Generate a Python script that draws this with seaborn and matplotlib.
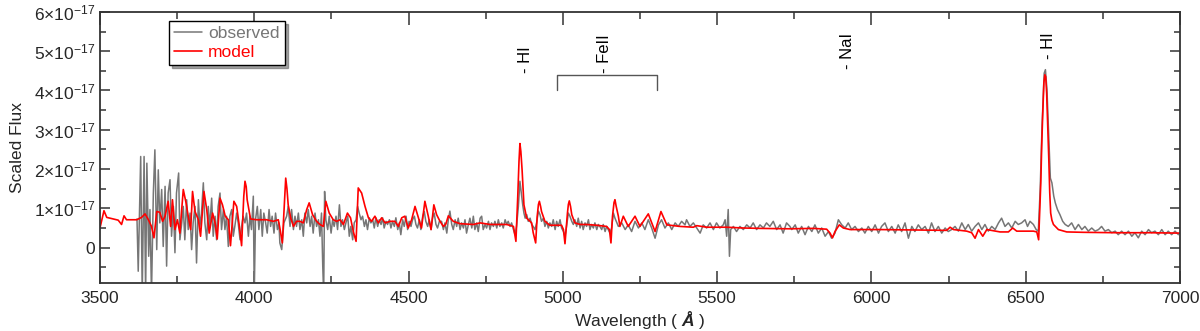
import numpy as np
import pandas as pd
import matplotlib
matplotlib.use("Agg")
import matplotlib.pyplot as plt
from matplotlib.ticker import MultipleLocator, FuncFormatter
import seaborn as sns

# ---------------- data (flux in units of 1e-17) ----------------
model_wave = [3500, 3513, 3522, 3543, 3559, 3570, 3578, 3586, 3619, 3635, 3646, 3657, 3667, 3675,
              3684, 3694, 3703, 3711, 3721, 3729, 3735, 3743, 3751, 3759, 3770, 3779, 3786, 3794,
              3800, 3808, 3819, 3826, 3837, 3846, 3854, 3865, 3873, 3880, 3889, 3897, 3906, 3916,
              3923, 3934, 3943, 3951, 3959, 3966, 3970, 3974, 3977, 3988, 4008, 4040, 4062, 4078,
              4083, 4091, 4098, 4102, 4106, 4110, 4118, 4127, 4137, 4148, 4159, 4170, 4178, 4189,
              4202, 4213, 4224, 4232, 4243, 4256, 4267, 4278, 4289, 4302, 4312, 4321, 4330, 4337,
              4348, 4359, 4370, 4380, 4391, 4402, 4413, 4424, 4440, 4456, 4467, 4478, 4488, 4499,
              4510, 4521, 4532, 4542, 4553, 4564, 4573, 4582, 4591, 4602, 4613, 4621, 4629, 4645,
              4667, 4710, 4732, 4764, 4818, 4840, 4848, 4854, 4858, 4861, 4864, 4868, 4874, 4883,
              4899, 4904, 4912, 4917, 4921, 4924, 4928, 4931, 4942, 4958, 4996, 5002, 5007, 5015,
              5018, 5021, 5025, 5029, 5039, 5056, 5077, 5110, 5142, 5151, 5156, 5161, 5166, 5169,
              5173, 5180, 5185, 5196, 5212, 5234, 5250, 5277, 5299, 5318, 5337, 5358, 5380, 5423,
              5434, 5466, 5531, 5585, 5639, 5736, 5812, 5855, 5866, 5874, 5882, 5896, 5909, 5931,
              6028, 6136, 6244, 6255, 6266, 6287, 6309, 6325, 6336, 6347, 6361, 6374, 6417, 6444,
              6458, 6471, 6525, 6536, 6542, 6549, 6552, 6555, 6559, 6562, 6565, 6568, 6571, 6575,
              6578, 6581, 6585, 6590, 6606, 6633, 6687, 6795, 6903, 7000]
model_flux = [0.50, 0.94, 0.77, 0.73, 0.70, 0.59, 0.81, 0.71, 0.71, 0.77, 0.86, 0.71, 0.54, 0.25,
              0.92, 0.90, 0.67, 0.80, 1.18, 0.54, 1.22, 0.46, 0.71, 0.37, 1.48, 1.14, 0.80, 0.46,
              1.43, 0.92, 0.71, 0.29, 1.43, 0.97, 0.37, 0.88, 0.63, 0.22, 1.26, 1.09, 0.80, 0.71,
              0.05, 1.18, 1.05, 0.59, 0.05, 1.30, 1.69, 1.55, 1.22, 0.73, 0.71, 0.71, 0.67, 0.71,
              0.50, 0.12, 1.20, 1.77, 1.50, 1.09, 0.76, 0.54, 0.67, 0.67, 0.63, 0.97, 1.14, 0.84,
              0.67, 0.59, 0.54, 1.18, 0.88, 0.71, 0.67, 0.71, 0.59, 0.88, 0.76, 0.41, 0.16, 1.52,
              1.39, 1.05, 0.76, 0.67, 0.80, 0.63, 0.76, 0.63, 0.67, 0.67, 0.54, 0.76, 0.80, 0.50,
              0.71, 1.05, 0.76, 0.50, 1.18, 0.80, 0.46, 1.09, 0.84, 0.67, 0.54, 0.60, 0.81, 0.67,
              0.61, 0.59, 0.63, 0.59, 0.59, 0.54, 0.16, 1.31, 2.20, 2.65, 2.45, 1.98, 1.09, 0.75,
              0.63, 0.38, 0.12, 0.80, 1.10, 1.18, 1.05, 0.92, 0.67, 0.57, 0.57, 0.46, 0.10, 0.88,
              1.10, 1.19, 1.05, 0.84, 0.63, 0.59, 0.59, 0.57, 0.54, 0.46, 0.12, 0.80, 1.15, 1.22,
              1.05, 0.80, 0.54, 0.80, 0.54, 0.80, 0.54, 0.86, 0.41, 0.92, 0.58, 0.56, 0.54, 0.52,
              0.56, 0.52, 0.52, 0.50, 0.49, 0.48, 0.49, 0.47, 0.37, 0.25, 0.41, 0.58, 0.50, 0.46,
              0.46, 0.45, 0.44, 0.52, 0.46, 0.44, 0.42, 0.38, 0.24, 0.46, 0.29, 0.46, 0.40, 0.40,
              0.50, 0.42, 0.42, 0.40, 0.20, 1.65, 2.60, 3.34, 4.20, 4.40, 4.35, 3.93, 3.20, 2.24,
              1.40, 0.88, 0.70, 0.59, 0.46, 0.40, 0.39, 0.38, 0.38, 0.37]

obs_wave = [3620, 3624, 3632, 3637, 3643, 3648, 3652, 3658, 3662, 3667, 3673, 3678, 3684, 3689,
            3694, 3700, 3705, 3711, 3716, 3721, 3727, 3732, 3738, 3743, 3748, 3755, 3759, 3765,
            3770, 3775, 3781, 3786, 3792, 3797, 3802, 3808, 3813, 3819, 3824, 3829, 3835, 3840,
            3846, 3851, 3856, 3862, 3867, 3873, 3878, 3883, 3889, 3894, 3900, 3905, 3910, 3916,
            3921, 3927, 3932, 3937, 3943, 3948, 3954, 3959, 3964, 3970, 3975, 3981, 3986, 3991,
            3997, 4000, 4004, 4010, 4015, 4021, 4026, 4031, 4037, 4042, 4048, 4053, 4058, 4064,
            4069, 4075, 4080, 4083, 4089, 4096, 4105, 4110, 4116, 4121, 4127, 4132, 4137, 4143,
            4148, 4154, 4159, 4164, 4170, 4175, 4181, 4186, 4191, 4197, 4202, 4208, 4213, 4218,
            4222, 4225, 4228, 4232, 4238, 4243, 4249, 4254, 4259, 4265, 4270, 4276, 4281, 4286,
            4292, 4297, 4303, 4308, 4313, 4319, 4324, 4330, 4335, 4340, 4346, 4351, 4357, 4362,
            4367, 4373, 4378, 4384, 4389, 4394, 4400, 4405, 4411, 4416, 4421, 4427, 4432, 4438,
            4443, 4448, 4454, 4459, 4465, 4470, 4475, 4481, 4486, 4492, 4497, 4502, 4508, 4513,
            4519, 4524, 4529, 4535, 4540, 4546, 4551, 4556, 4562, 4567, 4573, 4578, 4583, 4589,
            4594, 4600, 4607, 4613, 4618, 4624, 4629, 4634, 4640, 4645, 4651, 4656, 4661, 4667,
            4672, 4678, 4683, 4688, 4694, 4699, 4705, 4710, 4715, 4721, 4726, 4732, 4737, 4742,
            4748, 4753, 4759, 4764, 4769, 4775, 4780, 4786, 4791, 4796, 4802, 4807, 4813, 4818,
            4823, 4829, 4834, 4840, 4845, 4850, 4856, 4861, 4866, 4870, 4874, 4878, 4883, 4888,
            4894, 4899, 4904, 4910, 4915, 4921, 4926, 4931, 4937, 4942, 4948, 4953, 4958, 4964,
            4969, 4975, 4980, 4985, 4991, 4996, 5002, 5007, 5012, 5018, 5023, 5029, 5034, 5039,
            5045, 5050, 5056, 5061, 5066, 5072, 5077, 5083, 5088, 5093, 5099, 5104, 5110, 5115,
            5120, 5126, 5131, 5137, 5142, 5147, 5153, 5158, 5164, 5169, 5180, 5191, 5202, 5212,
            5223, 5234, 5245, 5256, 5266, 5277, 5288, 5299, 5310, 5320, 5331, 5342, 5353, 5364,
            5374, 5385, 5396, 5401, 5412, 5423, 5434, 5445, 5455, 5466, 5477, 5488, 5498, 5509,
            5520, 5526, 5531, 5536, 5540, 5544, 5553, 5563, 5574, 5585, 5596, 5607, 5617, 5628,
            5639, 5650, 5660, 5671, 5682, 5693, 5704, 5714, 5725, 5736, 5742, 5753, 5763, 5774,
            5785, 5796, 5807, 5817, 5828, 5839, 5850, 5861, 5871, 5882, 5893, 5904, 5915, 5925,
            5936, 5947, 5958, 5969, 5979, 5990, 6001, 6012, 6023, 6033, 6044, 6055, 6066, 6077,
            6087, 6098, 6109, 6120, 6131, 6141, 6152, 6163, 6174, 6185, 6195, 6206, 6217, 6228,
            6239, 6249, 6260, 6271, 6282, 6293, 6304, 6314, 6325, 6336, 6347, 6358, 6368, 6379,
            6390, 6401, 6412, 6422, 6433, 6444, 6455, 6466, 6476, 6487, 6498, 6506, 6514, 6525,
            6534, 6541, 6547, 6553, 6560, 6564, 6569, 6575, 6580, 6585, 6591, 6596, 6603, 6611,
            6620, 6628, 6638, 6649, 6660, 6671, 6682, 6692, 6703, 6714, 6725, 6736, 6746, 6757,
            6768, 6779, 6790, 6800, 6811, 6822, 6833, 6844, 6854, 6865, 6876, 6887, 6898, 6908,
            6919, 6930, 6941, 6952, 6962, 6973, 6984, 6995]
obs_flux = [0.73, -0.60, 2.32, -1.20, 2.32, -1.20, 2.15, -0.22, 0.97, -1.20, 1.39, 2.49, -0.05, 1.98,
            0.63, 1.48, 0.03, 1.56, -0.47, 1.39, 1.73, 0.29, 1.05, -0.13, 1.39, 1.90, 0.20, 0.63,
            1.05, 0.20, 1.22, 0.46, 0.88, -0.05, 0.63, 1.05, -0.39, 1.22, 0.54, 0.88, 1.65, 0.63,
            0.20, 1.05, 0.54, 1.26, 0.29, 0.80, 0.20, 1.05, 1.39, 0.46, 0.97, 0.46, 0.80, 0.03,
            0.80, 0.97, 0.29, 0.54, 0.88, 0.63, 0.20, 0.54, 0.80, 0.63, 0.88, 0.29, 0.80, 0.46,
            1.31, -1.20, 0.71, 1.05, 0.46, 0.97, 0.29, 0.88, 0.63, 0.37, 0.97, 0.54, 0.80, 0.37,
            0.88, 0.46, 0.63, 0.12, -0.05, 0.63, 0.80, 1.05, 0.54, 0.97, 0.46, 0.80, 0.54, 0.88,
            0.46, 0.71, 0.29, 0.88, 0.63, 0.97, 0.54, 0.80, 0.37, 0.88, 0.54, 0.71, 0.29, 0.88,
            -0.47, -1.20, 1.43, 0.71, 0.46, 0.80, 0.37, 0.71, 0.54, 0.80, 0.46, 1.09, 0.54, 0.71,
            0.46, 0.63, 0.80, 0.29, 0.54, 0.20, 0.63, 0.71, 1.05, 0.88, 0.71, 0.80, 0.54, 0.71,
            0.46, 0.76, 0.63, 0.71, 0.50, 0.76, 0.54, 0.71, 0.59, 0.76, 0.50, 0.67, 0.59, 0.71,
            0.50, 0.67, 0.54, 0.76, 0.46, 0.63, 0.33, 0.71, 0.54, 0.80, 0.46, 0.67, 0.54, 0.71,
            0.80, 0.59, 0.50, 0.71, 0.46, 0.80, 0.92, 0.67, 0.54, 0.71, 0.46, 0.76, 0.88, 0.59,
            0.50, 0.67, 0.67, 0.46, 0.63, 0.37, 0.71, 0.93, 0.59, 0.46, 0.71, 0.54, 0.75, 0.46,
            0.63, 0.50, 0.71, 0.37, 0.59, 0.75, 0.50, 0.80, 0.46, 0.63, 0.41, 0.75, 0.80, 0.46,
            0.59, 0.50, 0.67, 0.46, 0.63, 0.54, 0.67, 0.50, 0.71, 0.54, 0.63, 0.50, 0.71, 0.59,
            0.67, 0.54, 0.63, 0.46, 0.33, 0.54, 1.05, 1.69, 1.35, 1.09, 0.88, 0.75, 0.84, 0.67,
            0.75, 0.59, 0.54, 0.46, 0.63, 0.93, 0.84, 0.67, 0.75, 0.54, 0.67, 0.50, 0.63, 0.54,
            0.71, 0.46, 0.67, 0.54, 0.71, 0.50, 0.41, 0.29, 0.54, 0.88, 0.80, 0.67, 0.59, 0.71,
            0.54, 0.75, 0.50, 0.67, 0.46, 0.63, 0.54, 0.71, 0.46, 0.59, 0.50, 0.63, 0.46, 0.59,
            0.54, 0.46, 0.59, 0.41, 0.54, 0.46, 0.37, 0.50, 0.88, 0.75, 0.54, 0.63, 0.46, 0.58,
            0.41, 0.67, 0.50, 0.63, 0.46, 0.71, 0.50, 0.24, 0.58, 0.71, 0.50, 0.63, 0.46, 0.63,
            0.54, 0.67, 0.58, 0.71, 0.54, 0.63, 0.50, 0.37, 0.58, 0.50, 0.63, 0.46, 0.63, 0.50,
            0.58, 0.71, 0.29, 0.97, -0.22, 0.46, 0.54, 0.41, 0.54, 0.46, 0.58, 0.50, 0.63, 0.46,
            0.58, 0.50, 0.63, 0.54, 0.67, 0.46, 0.58, 0.37, 0.63, 0.54, 0.46, 0.58, 0.37, 0.54,
            0.33, 0.54, 0.41, 0.58, 0.37, 0.50, 0.29, 0.41, 0.24, 0.37, 0.71, 0.58, 0.50, 0.63,
            0.46, 0.54, 0.41, 0.50, 0.37, 0.54, 0.41, 0.58, 0.37, 0.54, 0.63, 0.41, 0.54, 0.37,
            0.58, 0.41, 0.63, 0.24, 0.54, 0.41, 0.58, 0.46, 0.54, 0.37, 0.63, 0.41, 0.54, 0.37,
            0.50, 0.41, 0.46, 0.54, 0.42, 0.63, 0.46, 0.59, 0.42, 0.54, 0.63, 0.46, 0.59, 0.42,
            0.54, 0.46, 0.63, 0.75, 0.54, 0.63, 0.50, 0.67, 0.59, 0.63, 0.71, 0.54, 0.67, 0.59,
            0.46, 0.42, 1.48, 3.09, 4.44, 4.53, 4.02, 2.83, 1.77, 1.65, 1.31, 1.14, 0.97, 0.84,
            0.67, 0.59, 0.54, 0.63, 0.46, 0.59, 0.46, 0.54, 0.42, 0.50, 0.42, 0.46, 0.54, 0.42,
            0.46, 0.38, 0.42, 0.33, 0.42, 0.33, 0.42, 0.29, 0.38, 0.25, 0.42, 0.33, 0.46, 0.38,
            0.42, 0.33, 0.46, 0.33, 0.42, 0.33, 0.42, 0.33]

line_labels = ["- HI", "- FeII", "- NaI", "- HI"]
line_waves = [4878, 5135, 5922, 6575]
line_ypos = [4.45, 4.45, 4.55, 4.80]
feii_range = [4981, 5305]

# ---------------- style ----------------
sns.set_style("ticks")
plt.rcParams["font.family"] = ["Liberation Sans", "DejaVu Sans"]
plt.rcParams["mathtext.fontset"] = "custom"
plt.rcParams["mathtext.rm"] = "Liberation Sans"
plt.rcParams["mathtext.it"] = "Liberation Sans:italic"
plt.rcParams["mathtext.bf"] = "Liberation Sans:bold"
plt.rcParams["mathtext.bfit"] = "Liberation Sans:bold:italic"

fig = plt.figure(figsize=(12, 3.31), dpi=100)
ax = fig.add_axes([0.0833, 0.145, 0.9, 0.819])

obs_df = pd.DataFrame({"wave": obs_wave, "flux": obs_flux})
mod_df = pd.DataFrame({"wave": model_wave, "flux": model_flux})

sns.lineplot(data=obs_df, x="wave", y="flux", ax=ax, color="#767676", lw=1.1,
             sort=False, estimator=None, label="observed")
sns.lineplot(data=mod_df, x="wave", y="flux", ax=ax, color="#ff0000", lw=1.2,
             sort=False, estimator=None, label="model")

ax.set_xlim(3500, 7000)
ax.set_ylim(-0.9, 6.0)

ax.xaxis.set_major_locator(MultipleLocator(500))
ax.xaxis.set_minor_locator(MultipleLocator(250))
ax.yaxis.set_major_locator(MultipleLocator(1))
ax.yaxis.set_minor_locator(MultipleLocator(0.5))


def yfmt(v, pos):
    n = int(round(v))
    if n == 0:
        return "0"
    return r"$%d{\times}10^{-17}$" % n


ax.yaxis.set_major_formatter(FuncFormatter(yfmt))
ax.tick_params(axis="both", which="both", direction="in", top=True, right=True,
               labelsize=12.5, color="#333333", width=1.1)
ax.tick_params(axis="x", which="major", length=9, pad=6)
ax.tick_params(axis="x", which="minor", length=5)
ax.tick_params(axis="y", which="major", length=7)
ax.tick_params(axis="y", which="minor", length=4.5)
for s in ax.spines.values():
    s.set_color("#333333")
    s.set_linewidth(1.3)

ax.set_xlabel(r"Wavelength ( $\mathbfit{Å}$ )", fontsize=12.5, labelpad=2)
ax.set_ylabel("Scaled Flux", fontsize=12.5, labelpad=6)

for lab, w, yv in zip(line_labels, line_waves, line_ypos):
    ax.text(w, yv, lab, rotation=90, ha="center", va="bottom", fontsize=12, color="black")

ax.plot([feii_range[0], feii_range[0], feii_range[1], feii_range[1]],
        [4.0, 4.39, 4.39, 4.0], color="#555555", lw=1.0)

leg = ax.legend(loc="upper left", bbox_to_anchor=(0.064, 0.967), frameon=True,
                fancybox=False, shadow=True, fontsize=12.5, handlelength=1.6,
                borderpad=0.3, labelspacing=0.2, handletextpad=0.35, borderaxespad=0)
leg.get_frame().set_edgecolor("black")
leg.get_frame().set_linewidth(1.0)
for t, c in zip(leg.get_texts(), ["#767676", "#ff0000"]):
    t.set_color(c)

fig.savefig("out.png", dpi=100)
